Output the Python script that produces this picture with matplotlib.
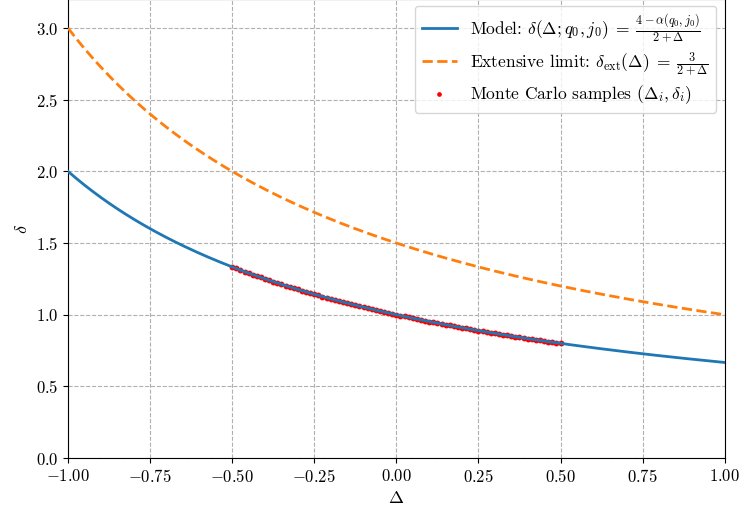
import numpy as np
import matplotlib
matplotlib.use("Agg")
import matplotlib.pyplot as plt

plt.rcParams['font.family'] = 'serif'
plt.rcParams['font.serif'] = ['cmr10']
plt.rcParams['mathtext.fontset'] = 'cm'
plt.rcParams['axes.formatter.use_mathtext'] = True
plt.rcParams['axes.unicode_minus'] = True

alpha = 2.0
delta_grid = np.linspace(-1, 1, 400)
model_num = 4 - alpha
ext_num = 3.0

# Monte Carlo samples (Delta_i, delta_i)
mc_delta = [-0.5 + 0.0125 * k for k in range(81)]
mc_vals = [1.3333, 1.3223, 1.3115, 1.3008, 1.2903, 1.2800, 1.2698, 1.2598, 1.2500, 1.2403,
           1.2308, 1.2214, 1.2121, 1.2030, 1.1940, 1.1852, 1.1765, 1.1679, 1.1594, 1.1511,
           1.1429, 1.1348, 1.1268, 1.1189, 1.1111, 1.1034, 1.0959, 1.0884, 1.0811, 1.0738,
           1.0667, 1.0596, 1.0526, 1.0458, 1.0390, 1.0323, 1.0256, 1.0191, 1.0127, 1.0063,
           1.0000, 0.9938, 0.9877, 0.9816, 0.9756, 0.9697, 0.9639, 0.9581, 0.9524, 0.9467,
           0.9412, 0.9357, 0.9302, 0.9249, 0.9195, 0.9143, 0.9091, 0.9040, 0.8989, 0.8939,
           0.8889, 0.8840, 0.8791, 0.8743, 0.8696, 0.8649, 0.8602, 0.8556, 0.8511, 0.8466,
           0.8421, 0.8377, 0.8333, 0.8290, 0.8247, 0.8205, 0.8163, 0.8122, 0.8081, 0.8040,
           0.8000]

fig = plt.figure(figsize=(7.41, 5.11), dpi=100)
ax = fig.add_axes([0.0918, 0.1037, 0.8862, 0.8975])

ax.plot(delta_grid, model_num / (2 + delta_grid), color='#1f77b4', lw=2, zorder=3,
        label=r'Model: $\delta(\Delta;q_0,j_0)\;=\;\frac{4-\alpha(q_0,j_0)}{2+\Delta}$')
ax.plot(delta_grid, ext_num / (2 + delta_grid), color='#ff7f0e', lw=2, ls='--', zorder=3,
        label=r'Extensive limit: $\delta_{\rm ext}(\Delta)\;=\;\frac{3}{2+\Delta}$')
ax.scatter(mc_delta, mc_vals, s=18, color='red', zorder=2, linewidths=0,
           label=r'Monte Carlo samples $(\Delta_i,\delta_i)$')

ax.set_xlim(-1, 1)
ax.set_ylim(0, 3.2)
ax.set_xticks(np.arange(-1, 1.01, 0.25))
ax.set_yticks(np.arange(0, 3.01, 0.5))
ax.set_xticklabels([f'${v:.2f}$' for v in np.arange(-1, 1.01, 0.25)])
ax.set_yticklabels([f'${v:.1f}$' for v in np.arange(0, 3.01, 0.5)])
ax.tick_params(labelsize=12)
ax.grid(True, ls='--', color='#b0b0b0', lw=0.8)
ax.set_xlabel(r'$\Delta$', fontsize=13)
ax.set_ylabel(r'$\delta$', fontsize=13)
leg = ax.legend(loc='upper right', fontsize=12.5, markerscale=0.8,
                bbox_to_anchor=(0.987, 0.986), borderaxespad=0, handletextpad=0.8,
                labelspacing=0.3)

fig.savefig('out.png', dpi=100)
